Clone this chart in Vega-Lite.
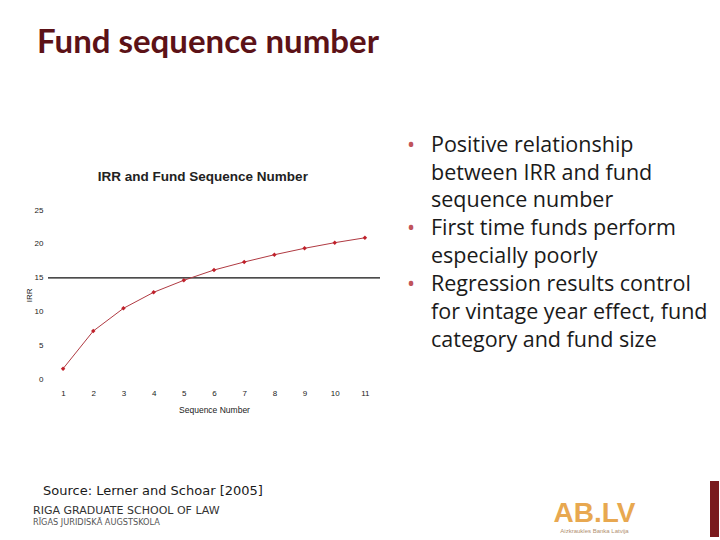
{
  "$schema": "https://vega.github.io/schema/vega-lite/v6.json",
  "background": "white",
  "padding": {"left": 25, "top": 27, "right": 0, "bottom": 0},
  "config": {
    "view": {"stroke": null},
    "axis": {"domain": false, "ticks": false, "grid": false, "labelOverlap": false, "labelFont": "Liberation Sans", "labelFontSize": 8, "labelColor": "#222222", "titleFont": "Liberation Sans", "titleFontWeight": "normal", "titleColor": "#222222"},
    "axisX": {"labelPadding": 10, "titleFontSize": 8.5, "titlePadding": 8},
    "axisY": {"labelPadding": 5, "titleFontSize": 8, "titlePadding": 1}
  },
  "spacing": 67,
  "vconcat": [
    {
      "spacing": 25,
      "hconcat": [
        {
          "title": {"text": "Fund sequence number", "anchor": "start", "frame": "group", "font": "Lato", "fontSize": 33, "fontWeight": "bold", "color": "#5c1217", "dx": -11, "offset": 109.7},
          "vconcat": [
            {
              "width": 332,
              "height": 169.5,
              "title": {"text": "IRR and Fund Sequence Number", "font": "Liberation Sans", "fontSize": 13.5, "fontWeight": "bold", "color": "#222222", "anchor": "middle", "frame": "bounds", "offset": 22.8},
              "data": {"values": [
                {"seq": 1, "irr": 1.6},
                {"seq": 2, "irr": 7.15},
                {"seq": 3, "irr": 10.5},
                {"seq": 4, "irr": 12.86},
                {"seq": 5, "irr": 14.63},
                {"seq": 6, "irr": 16.15},
                {"seq": 7, "irr": 17.33},
                {"seq": 8, "irr": 18.4},
                {"seq": 9, "irr": 19.35},
                {"seq": 10, "irr": 20.18},
                {"seq": 11, "irr": 20.9}
              ]},
              "layer": [
                {
                  "data": {"values": [{"benchmark": 15}]},
                  "mark": {"type": "rule", "color": "#111111", "strokeWidth": 1.3},
                  "encoding": {"y": {"field": "benchmark", "type": "quantitative", "scale": {"domain": [0, 25], "nice": false},
                    "axis": {"values": [0,5,10,15,20,25], "title": "IRR", "labelOverlap": false}}}
                },
                {
                  "mark": {"type": "line", "color": "#b03a42", "strokeWidth": 1},
                  "encoding": {
                    "x": {"field": "seq", "type": "quantitative", "scale": {"domain": [0.5, 11.5], "nice": false, "zero": false},
                      "axis": {"values": [1,2,3,4,5,6,7,8,9,10,11], "title": "Sequence Number", "labelOverlap": false}},
                    "y": {"field": "irr", "type": "quantitative", "scale": {"domain": [0, 25], "nice": false},
                      "axis": {"values": [0,5,10,15,20,25], "title": "IRR", "labelOverlap": false}}
                  }
                },
                {
                  "mark": {"type": "point", "shape": "diamond", "filled": true, "color": "#c0202a", "size": 20, "opacity": 1},
                  "encoding": {
                    "x": {"field": "seq", "type": "quantitative", "scale": {"domain": [0.5, 11.5], "nice": false, "zero": false},
                      "axis": {"values": [1,2,3,4,5,6,7,8,9,10,11], "title": "Sequence Number", "labelOverlap": false}},
                    "y": {"field": "irr", "type": "quantitative", "scale": {"domain": [0, 25], "nice": false},
                      "axis": {"values": [0,5,10,15,20,25], "title": "IRR", "labelOverlap": false}}
                  }
                }
              ]
            }
          ]
        },
        {
          "width": 40,
          "height": 169.5,
          "data": {"values": [
            {"line": 1, "text": "Positive relationship", "bullet": "•"},
            {"line": 2, "text": "between IRR and fund", "bullet": ""},
            {"line": 3, "text": "sequence number", "bullet": ""},
            {"line": 4, "text": "First time funds perform", "bullet": "•"},
            {"line": 5, "text": "especially poorly", "bullet": ""},
            {"line": 6, "text": "Regression results control", "bullet": "•"},
            {"line": 7, "text": "for vintage year effect, fund", "bullet": ""},
            {"line": 8, "text": "category and fund size", "bullet": ""}
          ]},
          "encoding": {"y": {"field": "line", "type": "quantitative", "axis": null, "scale": {"domain": [3.093, 9.177], "nice": false, "zero": false, "reverse": true}}},
          "layer": [
            {"mark": {"type": "text", "align": "left", "baseline": "alphabetic", "font": "Open Sans", "fontSize": 21.5, "color": "#1a1a1a", "clip": false},
             "encoding": {"text": {"field": "text", "type": "nominal"}}},
            {"mark": {"type": "text", "align": "center", "baseline": "alphabetic", "font": "Open Sans", "fontSize": 21.5, "color": "#c0545a", "dx": -20, "clip": false},
             "encoding": {"text": {"field": "bullet", "type": "nominal"}}}
          ]
        }
      ]
    },
    {
      "spacing": 286.5,
      "hconcat": [
        {
          "width": 2,
          "height": 50,
          "data": {"values": [
            {"line": 1, "text": "Source: Lerner and Schoar [2005]"},
            {"line": 2, "text": "RIGA GRADUATE SCHOOL OF LAW"},
            {"line": 3, "text": "RĪGAS JURIDISKĀ AUGSTSKOLA"}
          ]},
          "encoding": {
            "y": {"field": "line", "type": "quantitative", "axis": null, "scale": {"domain": [0.0244, 3.509], "nice": false, "zero": false, "reverse": true}},
            "text": {"field": "text", "type": "nominal"}
          },
          "layer": [
            {"transform": [{"filter": "datum.line == 1"}], "mark": {"type": "text", "align": "left", "baseline": "alphabetic", "font": "DejaVu Sans", "fontSize": 13, "color": "#1a1a1a", "dx": -6}},
            {"transform": [{"filter": "datum.line == 2"}], "mark": {"type": "text", "align": "left", "baseline": "middle", "font": "DejaVu Sans", "fontSize": 11, "color": "#333333", "dx": -16, "dy": 2}},
            {"transform": [{"filter": "datum.line == 3"}], "mark": {"type": "text", "align": "left", "baseline": "alphabetic", "font": "DejaVu Sans", "fontSize": 8.2, "color": "#555555", "dx": -16, "dy": 1.5}}
          ]
        },
        {
          "spacing": 70.5,
          "hconcat": [
            {
              "width": 90,
              "height": 55,
              "data": {"values": [
                {"line": 1, "text": "AB.LV"},
                {"line": 2, "text": "Aizkraukles Banka Latvija"}
              ]},
              "encoding": {
                "y": {"field": "line", "type": "quantitative", "axis": null, "scale": {"domain": [-7.545, 2.455], "nice": false, "zero": false, "reverse": true}},
                "text": {"field": "text", "type": "nominal"}
              },
              "layer": [
                {"transform": [{"filter": "datum.line == 1"}], "mark": {"type": "text", "align": "center", "baseline": "bottom", "font": "Liberation Sans", "fontSize": 28, "fontWeight": "bold", "color": "#e8a850"}},
                {"transform": [{"filter": "datum.line == 2"}], "mark": {"type": "text", "align": "center", "baseline": "alphabetic", "font": "Liberation Sans", "fontSize": 6, "color": "#b09070"}}
              ]
            },
            {
              "width": 9,
              "height": 56,
              "view": {"fill": "#7a1a1d", "stroke": null},
              "data": {"values": [{}]},
              "mark": {"type": "text"},
              "encoding": {"text": {"value": ""}}
            }
          ]
        }
      ]
    }
  ]
}
